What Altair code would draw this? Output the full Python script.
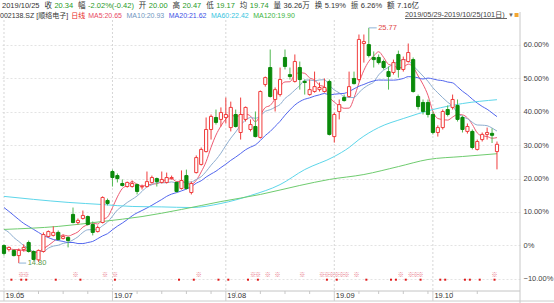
import altair as alt
import pandas as pd
import numpy as np

# ---------------- data ----------------
base_price = 15.62  # price at 0%

opens = [15.62, 15.43, 15.39, 15.15, 15.43, 15.76, 15.34, 14.95, 15.34, 16.04,
         16.09, 16.23, 15.95, 15.99, 17.07, 16.69, 16.88, 16.97, 16.60, 16.27,
         16.69, 17.72, 19.07, 18.88, 18.51, 18.37, 18.37, 18.46, 18.35, 18.37,
         18.56, 18.74, 18.56, 18.56, 18.74, 18.56, 18.28, 18.88, 18.09, 19.02,
         19.40, 20.00, 21.03, 21.59, 21.50, 21.59, 21.12, 21.73, 20.89, 21.50,
         21.03, 21.17, 20.66, 23.13, 23.92, 22.43, 22.66, 24.39, 23.59, 23.27,
         23.92, 23.27, 22.66, 22.80, 22.89, 22.80, 23.27, 20.70, 21.87, 22.52,
         22.57, 23.41, 23.36, 25.04, 24.99, 24.39, 24.39, 24.20, 23.73, 23.69,
         24.53, 23.83, 24.20, 24.29, 22.57, 22.29, 22.29, 21.73, 20.89, 21.12,
         21.96, 22.06, 22.15, 21.59, 20.94, 20.94, 20.10, 20.56, 20.80, 20.85,
         20.00]
highs = [15.67, 15.57, 15.43, 15.48, 15.67, 15.85, 15.39, 15.43, 16.23, 16.32,
         16.51, 16.32, 16.13, 16.04, 17.39, 16.88, 17.25, 17.02, 16.74, 16.55,
         17.91, 17.81, 19.16, 18.98, 18.70, 18.60, 18.65, 18.51, 18.46, 19.07,
         18.88, 18.79, 19.07, 19.02, 18.88, 18.60, 19.12, 19.16, 18.60, 19.82,
         20.19, 21.59, 21.73, 21.96, 22.06, 22.52, 22.33, 21.96, 22.52, 22.10,
         21.50, 21.87, 22.85, 23.50, 24.76, 22.99, 23.92, 24.76, 23.92, 24.53,
         24.20, 23.36, 23.36, 23.73, 23.22, 23.41, 23.36, 21.82, 22.43, 22.66,
         23.73, 23.73, 25.46, 25.46, 25.77, 24.67, 24.53, 24.29, 23.97, 24.29,
         24.71, 24.43, 25.04, 24.39, 22.66, 22.43, 22.43, 21.87, 21.22, 21.96,
         22.15, 22.66, 22.43, 21.68, 21.31, 21.03, 20.56, 20.89, 21.12, 21.08,
         20.47]
lows = [15.15, 15.34, 15.11, 14.80, 15.34, 15.29, 14.92, 14.85, 15.29, 15.99,
        16.04, 15.85, 15.90, 15.53, 16.65, 16.60, 16.83, 16.55, 16.09, 16.23,
        16.65, 17.49, 18.37, 18.56, 18.37, 18.32, 18.32, 18.00, 18.23, 18.32,
        18.51, 18.37, 18.51, 18.51, 18.70, 18.09, 18.23, 18.23, 18.00, 18.98,
        19.35, 19.96, 20.56, 21.26, 21.17, 21.31, 20.94, 21.12, 20.56, 21.40,
        20.94, 20.66, 20.61, 23.03, 22.52, 21.87, 22.57, 23.83, 23.36, 23.22,
        22.89, 22.66, 22.61, 22.75, 22.80, 22.75, 20.75, 20.42, 21.50, 22.33,
        22.52, 23.13, 23.27, 24.15, 24.39, 23.92, 24.06, 23.83, 22.89, 23.59,
        23.45, 23.73, 24.15, 22.75, 21.96, 21.73, 21.59, 20.80, 20.70, 21.03,
        21.64, 21.96, 21.40, 20.89, 20.84, 20.10, 20.05, 20.47, 20.56, 20.40,
        19.17]
closes = [15.25, 15.53, 15.15, 15.39, 15.53, 15.34, 14.97, 15.39, 16.13, 16.27,
          16.23, 15.90, 16.04, 15.85, 16.69, 16.79, 17.02, 16.60, 16.23, 16.46,
          17.86, 17.58, 18.79, 18.74, 18.42, 18.56, 18.51, 18.14, 18.37, 18.60,
          18.79, 18.60, 18.70, 18.79, 18.79, 18.14, 18.65, 18.28, 18.51, 19.72,
          20.10, 21.03, 21.64, 21.36, 21.82, 21.73, 22.06, 21.17, 21.73, 22.06,
          21.26, 20.70, 22.80, 23.45, 22.57, 22.89, 23.36, 23.97, 23.50, 24.20,
          23.36, 23.22, 22.89, 23.03, 22.99, 22.99, 20.80, 21.73, 22.19, 22.38,
          23.03, 23.17, 25.23, 25.13, 24.48, 24.29, 24.15, 23.92, 23.50, 24.15,
          23.83, 24.29, 24.62, 22.80, 22.10, 21.87, 21.73, 20.89, 21.12, 21.87,
          21.73, 22.43, 21.50, 21.03, 21.17, 20.19, 20.47, 20.80, 20.89, 20.76,
          20.34]

# moving-average values before the window is full
ma5_head = [15.53, 15.48, 15.43, 15.43]
ma10_head = [16.37, 16.23, 15.99, 15.81, 15.62, 15.48, 15.34, 15.34, 15.34]
ma20_head = [17.39, 17.21, 17.02, 16.83, 16.65, 16.51, 16.37, 16.23, 16.09, 15.99,
             15.90, 15.85, 15.81, 15.76, 15.76, 15.71, 15.71, 15.76, 15.81]
ma60_days = [0, 6, 13, 20, 26, 32, 38, 44, 50, 56, 61, 67, 70, 72, 76, 81, 87, 93, 100]
ma60_vals = [17.91, 17.77, 17.63, 17.53, 17.44, 17.42, 17.39, 17.58, 17.95, 18.46,
             19.16, 19.77, 20.19, 20.56, 21.12, 21.54, 21.96, 22.24, 22.42]
ma120_days = [0, 11, 20, 28, 36, 44, 52, 60, 66, 73, 80, 86, 93, 100]
ma120_vals = [16.37, 16.51, 16.74, 16.97, 17.30, 17.67, 18.00, 18.42, 18.70, 18.93,
              19.30, 19.63, 19.77, 19.90]

month_days = [0, 22, 45, 67, 87]
month_labels = ["19.05", "19.07", "19.08", "19.09", "19.10"]
week_days = [3, 7, 12, 17, 27, 32, 37, 42, 47, 52, 57, 62, 72, 76, 81, 86, 91, 96]
star_days = [4, 5, 15, 21, 23, 40, 51, 52, 54, 56, 61, 65, 66, 67, 68, 69, 70, 72,
             81, 83, 84, 85, 100]
dot_days = [2, 4, 5, 11, 16, 23, 36, 39, 44, 46, 50, 52, 66, 68, 74, 79, 80, 82, 85,
            89, 90, 94, 95, 97, 100]
pct_ticks = [-10, 0, 10, 20, 30, 40, 50, 60]

max_day, max_price = 74, 25.77
min_day, min_price = 3, 14.80

quote_labels = ["", "收", "幅", "开", "高", "低", "均", "量", "换", "振", "额"]
quote_values = ["2019/10/25", "20.34", "-2.02%(-0.42)", "20.00", "20.47", "19.17",
                "19.74", "36.26万", "5.19%", "6.26%", "7.16亿"]
quote_is_price = [False, True, True, True, True, True, True, False, False, False, False]
info_texts = ["002138.SZ", "[顺络电子]", "日线", "MA5:20.65", "MA10:20.93",
              "MA20:21.62", "MA60:22.42", "MA120:19.90"]
range_text = "2019/05/29-2019/10/25(101日)"

# ---------------- styling ----------------
RED = "#f03c3c"
GREEN_BODY = "#0a8a0a"
GREEN_WICK = "#52b852"
DARK = "#333333"
VAL_GREEN = "#1f9a1f"
FONT = "Liberation Sans, Noto Sans CJK SC, sans-serif"
MA_NAMES = ["MA120", "MA60", "MA20", "MA10", "MA5"]
MA_COLORS = ["#6fcc6f", "#5dd6ea", "#5266ee", "#8eaed0", "#ee5a72"]
INFO_COLORS = [DARK, DARK, "#e82828", "#e84a64", "#7096c0", "#4052e6", "#36c4e0", "#3cb43c"]

W_TABLE = {".": .278, "/": .278, "%": .889, "(": .333, ")": .333, "-": .333, ":": .278,
           "M": .833, "A": .667, "S": .667, "Z": .611, "[": .278, "]": .278}


def text_width(s, size):
    w = 0.0
    for ch in s:
        if ord(ch) > 0x2E80:
            w += 1.0
        elif ch.isdigit():
            w += .556
        else:
            w += W_TABLE.get(ch, .556)
    return w * size


def pct(p):
    return (np.asarray(p, dtype=float) / base_price - 1.0) * 100.0


n = len(closes)
days = np.arange(n)
o, h, l, c = pct(opens), pct(highs), pct(lows), pct(closes)
up = np.asarray(closes) >= np.asarray(opens)
candles = pd.DataFrame({
    "i": days, "xl": days - 0.32, "xr": days + 0.32,
    "h": h, "l": l, "top": np.maximum(o, c), "bot": np.minimum(o, c),
    "fill": np.where(up, "#ffffff", GREEN_BODY),
    "stroke": np.where(up, RED, GREEN_BODY),
    "wick": np.where(up, RED, GREEN_WICK),
})

cs = pd.Series(closes, dtype=float)


def ma(win, head):
    m = cs.rolling(win).mean().to_numpy()
    m[:len(head)] = head
    return m


rows = []
for name, vals in [("MA5", ma(5, ma5_head)), ("MA10", ma(10, ma10_head)),
                   ("MA20", ma(20, ma20_head))]:
    for d, v in zip(days, vals):
        rows.append({"i": d, "v": float(pct(v)), "name": name})
for name, dd, vv in [("MA60", ma60_days, ma60_vals), ("MA120", ma120_days, ma120_vals)]:
    for d, v in zip(dd, vv):
        rows.append({"i": d, "v": float(pct(v)), "name": name})
ma_df = pd.DataFrame(rows)
ma_df["order"] = ma_df["name"].map({k: j for j, k in enumerate(MA_NAMES)})

xs = alt.Scale(domain=[-0.811, 104.67], nice=False, zero=False)
ys = alt.Scale(domain=[-13.59, 67.33], nice=False, zero=False)

y_axis = alt.Axis(orient="right", values=pct_ticks,
                  labelExpr="datum.value == 0 ? '0%' : format(datum.value, '.2f') + '%'",
                  grid=True, gridColor="#e3e3e3", gridDash=[2, 2], domain=False,
                  ticks=False, labelPadding=3, labelFontSize=7.5, labelColor="#444444",
                  labelFont=FONT, title=None)


def X(field):
    return alt.X(field, type="quantitative", scale=xs, axis=None)


def Y(field):
    return alt.Y(field, type="quantitative", scale=ys, axis=y_axis)


months_df = pd.DataFrame({"i": month_days, "lab": month_labels})
weeks_df = pd.DataFrame({"i": week_days})

vgrid = alt.Chart(months_df).mark_rule(color="#d6d6d6", strokeDash=[2, 2], strokeWidth=1).encode(
    x=X("i"), y=alt.value(0), y2=alt.value(271))
vgrid2 = alt.Chart(months_df).mark_rule(color="#cfcfcf", strokeWidth=1).encode(
    x=X("i"), y=alt.value(271), y2=alt.value(281))
wticks = alt.Chart(weeks_df).mark_rule(color="#c8c8c8", strokeWidth=1).encode(
    x=X("i"), y=alt.value(271), y2=alt.value(274))
mlabels = alt.Chart(months_df).mark_text(align="left", baseline="middle", dx=1.5,
                                         fontSize=7.5, font=FONT, color=DARK).encode(
    x=X("i"), y=alt.value(276), text="lab:N")

lines = alt.Chart(ma_df).mark_line(strokeWidth=1, interpolate="monotone").encode(
    x=X("i"), y=Y("v"),
    color=alt.Color("name:N", scale=alt.Scale(domain=MA_NAMES, range=MA_COLORS), legend=None),
    detail="name:N", order="order:Q")

wicks = alt.Chart(candles).mark_rule(strokeWidth=1).encode(
    x=X("i"), y=Y("l"), y2="h", color=alt.Color("wick:N", scale=None))
bodies = alt.Chart(candles).mark_rect(strokeWidth=1).encode(
    x=X("xl"), x2="xr", y=Y("top"), y2="bot",
    fill=alt.Fill("fill:N", scale=None), stroke=alt.Stroke("stroke:N", scale=None))

stars = alt.Chart(pd.DataFrame({"i": np.asarray(star_days) - 0.5})).mark_text(
    text="※", fontSize=6, color="#e87585", font=FONT, baseline="middle").encode(
    x=X("i"), y=alt.value(255.3))
dots = alt.Chart(pd.DataFrame({"i": np.asarray(dot_days) - 0.5})).mark_square(
    size=4, color="#e01818", opacity=1).encode(x=X("i"), y=alt.value(259.7))

ann = pd.DataFrame({
    "i": [max_day, min_day], "i2": [max_day + 1.6, min_day + 1.5],
    "v": [float(pct(max_price)), float(pct(min_price))],
    "t": [f"{max_price:.2f}", f"{min_price:.2f}"],
    "col": ["#e04848", "#5c9a4c"],
})
ann_rule = alt.Chart(ann).mark_rule(color="#8fb3d6", strokeWidth=1).encode(
    x=X("i"), x2="i2", y=Y("v"))
ann_text = alt.Chart(ann).mark_text(align="left", baseline="middle", dx=1.5,
                                    fontSize=7.5, font=FONT).encode(
    x=X("i2"), y=Y("v"), text="t:N", color=alt.Color("col:N", scale=None))

one = pd.DataFrame({"k": [0]})
axis_line = alt.Chart(one).mark_rule(color="#c4c4c4").encode(
    x=alt.value(0), x2=alt.value(520), y=alt.value(271))
bottom_line = alt.Chart(one).mark_rule(color="#cccccc").encode(
    x=alt.value(0), x2=alt.value(554), y=alt.value(281))
right_line = alt.Chart(one).mark_rule(color="#c8c8c8").encode(
    x=alt.value(520), y=alt.value(-8), y2=alt.value(283))


def txt(t, x, y, size, col):
    return alt.Chart(one).mark_text(align="left", baseline="middle", fontSize=size,
                                    font=FONT, color=col, text=t).encode(
        x=alt.value(x), y=alt.value(y))


texts = []
# header line 1 (flowed left to right)
S1, G_IN, G_OUT = 7.5, 2.5, 4.9
x = 2.0
for lab, val, is_price in zip(quote_labels, quote_values, quote_is_price):
    if lab:
        texts.append(txt(lab, x, -14, S1, DARK))
        x += text_width(lab, S1) + G_IN
    texts.append(txt(val, x, -14, S1, VAL_GREEN if is_price else DARK))
    x += text_width(val, S1) + G_OUT
# header line 2
S2 = 7.0
x = 0.0
gaps2 = [2, 3, 3, 4.5, 4.5, 4.5, 4.5, 0]
for t, col, g in zip(info_texts, INFO_COLORS, gaps2):
    texts.append(txt(t, x, -4, S2, col))
    x += text_width(t, S2) + g
texts.append(txt(range_text, 405, -5, 7.3, "#444444"))
texts.append(alt.Chart(one).mark_rule(color="#666666").encode(
    x=alt.value(405), x2=alt.value(507), y=alt.value(-1.5)))
texts.append(txt("▼", 508, -5, 6, "#666666"))
texts.append(alt.Chart(one).mark_rect(color="#f2a630").encode(
    x=alt.value(514.5), x2=alt.value(518.5), y=alt.value(-7), y2=alt.value(-3)))

chart = alt.layer(
    vgrid, vgrid2, wticks, mlabels, axis_line, bottom_line, right_line,
    lines, wicks, bodies, stars, dots, ann_rule, ann_text, *texts
).properties(
    width=520, height=271,
    padding={"left": 0, "top": 20, "right": 34, "bottom": 12},
    autosize=alt.AutoSizeParams(type="none"),
    background="#ffffff",
).configure_view(stroke=None)

chart.save("out.html", embed_options={"renderer": "svg", "actions": False})
